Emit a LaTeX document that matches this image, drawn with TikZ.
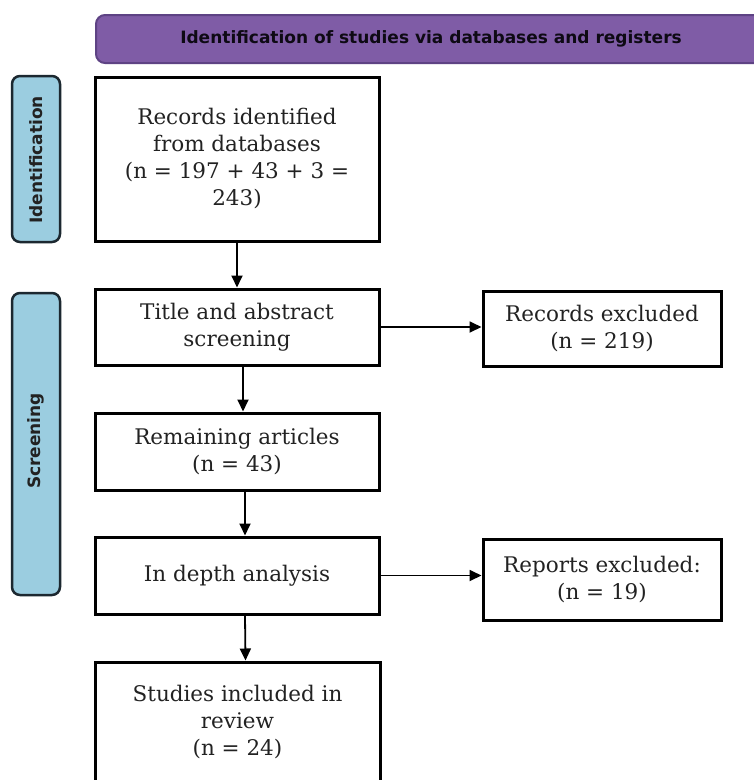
\documentclass[tikz,border=0pt]{standalone}
\usepackage{fontspec}
\setmainfont{DejaVu Serif}
\newfontfamily\labelfont{DejaVu Sans}[BoldFont={DejaVu Sans Bold}]
\usetikzlibrary{arrows.meta,calc}
\definecolor{bannerfill}{HTML}{7F5CA6}
\definecolor{bannerline}{HTML}{5E4384}
\definecolor{pillfill}{HTML}{9BCDE0}
\definecolor{pillline}{HTML}{1C2830}
\definecolor{txt}{HTML}{222222}
\tikzset{
  flowbox/.style={draw=black, line width=3pt, fill=white, align=center, inner sep=0pt,
    font=\fontsize{21.5}{27}\selectfont, text=txt},
  pill/.style={draw=pillline, line width=2.5pt, fill=pillfill, rounded corners=8pt, inner sep=0pt},
  pilltext/.style={rotate=90, font=\labelfont\bfseries\fontsize{17}{20}\selectfont, text=txt},
  arr/.style={line width=1.8pt, -{Triangle[length=12pt,width=11pt]}},
}
\begin{document}
\begin{tikzpicture}[x=1pt,y=-1pt]
\useasboundingbox[fill=white] (0,0) rectangle (754,780);
% banner
\node[draw=bannerline, line width=2pt, fill=bannerfill, rounded corners=9pt,
      minimum width=680pt, minimum height=48pt, inner sep=0pt] (banner) at (436,39) {};
\node[font=\labelfont\bfseries\fontsize{17}{20}\selectfont, text=black!85!bannerline] (bannertext) at (431,39)
  {Identification of studies via databases and registers};
% side pills
\node[pill, minimum width=48pt, minimum height=166pt] (idpill) at (36,159) {};
\node[pilltext] (idtext) at (36,160) {Identification};
\node[pill, minimum width=48pt, minimum height=302pt] (scpill) at (36,444) {};
\node[pilltext] (sctext) at (36,441) {Screening};
% boxes
\node[flowbox, minimum width=284pt, minimum height=164pt] (rec) at (237,159)
  {Records identified\\from databases\\(n = 197 + 43 + 3 =\\243)};
\node[flowbox, minimum width=284pt, minimum height=76pt] (tas) at (237,327)
  {Title and abstract\\screening};
\node[flowbox, minimum width=238pt, minimum height=75pt] (rex) at (602,328.5)
  {Records excluded\\(n = 219)};
\node[flowbox, minimum width=284pt, minimum height=77pt] (rem) at (237,451.5)
  {Remaining articles\\(n = 43)};
\node[flowbox, minimum width=284pt, minimum height=77pt] (ida) at (237,575.5)
  {In depth analysis};
\node[flowbox, minimum width=238pt, minimum height=81pt] (rpx) at (602,579.5)
  {Reports excluded:\\(n = 19)};
\node[flowbox, minimum width=285pt, minimum height=120pt] (stu) at (237.5,722)
  {Studies included in\\review\\(n = 24)};
% connectors
\draw[arr] (rec.south) -- (tas.north);
\draw[arr] ([xshift=6pt]tas.south) -- ([xshift=6pt]rem.north);
\draw[arr] ([xshift=8pt]rem.south) -- ([xshift=8pt]ida.north);
\draw[arr] ([xshift=8pt]ida.south) -- ([xshift=8pt]stu.north);
\draw[arr] (tas.east) -- (tas.east -| rex.west);
\draw[arr] (ida.east) -- (ida.east -| rpx.west);
\end{tikzpicture}
\end{document}
